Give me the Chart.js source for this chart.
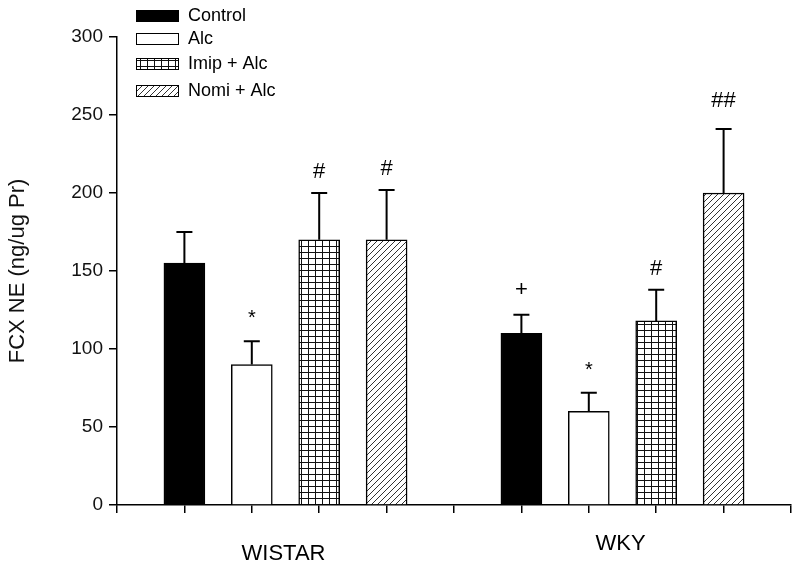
<!DOCTYPE html>
<html>
<head>
<meta charset="utf-8">
<script src="https://cdn.jsdelivr.net/npm/chart.js@4.4.0/dist/chart.umd.min.js"></script>
<style>
html,body{margin:0;padding:0;background:#fff;}
#wrap{width:800px;height:568px;position:relative;}
</style>
</head>
<body>
<div id="wrap"><canvas id="c" width="800" height="568"></canvas></div>
<script>
// ---- data ----
const groups = ['WISTAR', 'WKY'];
const seriesNames = ['Control', 'Alc', 'Imip + Alc', 'Nomi + Alc'];
const controlVals = [155, 110];
const alcVals = [90, 60];
const imipVals = [170, 118];
const nomiVals = [170, 200];
const controlErr = [20, 12];
const alcErr = [15, 12];
const imipErr = [30, 20];
const nomiErr = [32, 41];
const controlMarks = ['', '+'];
const alcMarks = ['*', '*'];
const imipMarks = ['#', '#'];
const nomiMarks = ['#', '##'];
const yTicks = [0, 50, 100, 150, 200, 250, 300];
const yTitle = 'FCX NE (ng/ug Pr)';

// ---- patterns ----
function gridPattern() {
  const c = document.createElement('canvas'); c.width = 7; c.height = 6;
  const g = c.getContext('2d');
  g.fillStyle = '#fff'; g.fillRect(0, 0, 7, 6);
  g.fillStyle = '#111';
  g.fillRect(0, 0, 1, 6); g.fillRect(0, 0, 7, 1);
  return g.createPattern(c, 'repeat');
}
function hatchPattern() {
  const s = 6;
  const c = document.createElement('canvas'); c.width = s; c.height = s;
  const g = c.getContext('2d');
  g.fillStyle = '#fff'; g.fillRect(0, 0, s, s);
  g.strokeStyle = '#333'; g.lineWidth = 1;
  g.beginPath();
  g.moveTo(0, s); g.lineTo(s, 0);
  g.moveTo(-1, 1); g.lineTo(1, -1);
  g.moveTo(s - 1, s + 1); g.lineTo(s + 1, s - 1);
  g.stroke();
  return g.createPattern(c, 'repeat');
}
const fills = ['#000', '#fff', gridPattern(), hatchPattern()];
const valueSets = [controlVals, alcVals, imipVals, nomiVals];
const errSets = [controlErr, alcErr, imipErr, nomiErr];
const markSets = [controlMarks, alcMarks, imipMarks, nomiMarks];
const slotsPerGroup = seriesNames.length + 1;

const datasets = seriesNames.map((name, si) => ({
  label: name,
  data: groups.map((g, gi) => ({ x: gi * slotsPerGroup + si + 1, y: valueSets[si][gi] })),
  backgroundColor: fills[si],
  borderColor: '#000',
  borderWidth: 1.5,
  borderSkipped: 'bottom',
  barThickness: 41,
  errors: errSets[si],
  marks: markSets[si]
}));

const FONT = '"Liberation Sans", Arial, sans-serif';
const markGap = { '#': 15, '##': 22, '+': 19, '*': 17 };

const errorPlugin = {
  id: 'errbars',
  afterDatasetsDraw(chart) {
    const ctx = chart.ctx, ys = chart.scales.y;
    ctx.save();
    chart.data.datasets.forEach((ds, i) => {
      const meta = chart.getDatasetMeta(i);
      meta.data.forEach((el, j) => {
        const v = ds.data[j].y, e = ds.errors[j];
        const yt = ys.getPixelForValue(v + e);
        ctx.strokeStyle = '#000'; ctx.lineWidth = 2;
        ctx.beginPath();
        ctx.moveTo(el.x, el.y); ctx.lineTo(el.x, yt);
        ctx.moveTo(el.x - 8, yt); ctx.lineTo(el.x + 8, yt);
        ctx.stroke();
        const m = ds.marks[j];
        if (m) {
          ctx.fillStyle = '#000';
          ctx.textAlign = 'center'; ctx.textBaseline = 'alphabetic';
          ctx.font = (m === '*' ? '20px ' : '22px ') + FONT;
          ctx.fillText(m, el.x, yt - markGap[m]);
        }
      });
    });
    ctx.restore();
  }
};

const legendPlugin = {
  id: 'customLegend',
  afterDraw(chart) {
    const ctx = chart.ctx;
    const rowsY = [16, 39, 64, 91];
    ctx.save();
    seriesNames.forEach((n, i) => {
      const y = rowsY[i];
      ctx.fillStyle = fills[i];
      ctx.fillRect(136, y - 5, 42, 11);
      ctx.strokeStyle = '#000'; ctx.lineWidth = 1;
      ctx.strokeRect(136.5, y - 5.5, 42, 11);
      ctx.fillStyle = '#000';
      ctx.font = '18px ' + FONT;
      ctx.textAlign = 'left'; ctx.textBaseline = 'middle';
      ctx.fillText(n, 188, y);
    });
    ctx.restore();
  }
};

const groupLabelPlugin = {
  id: 'groupLabels',
  afterDraw(chart) {
    const ctx = chart.ctx, xs = chart.scales.x;
    const offs = [49, 39];
    ctx.save();
    ctx.fillStyle = '#000';
    ctx.font = '22px ' + FONT;
    ctx.textAlign = 'center'; ctx.textBaseline = 'middle';
    groups.forEach((g, gi) => {
      const a = xs.getPixelForValue(gi * slotsPerGroup + 2);
      const b = xs.getPixelForValue(gi * slotsPerGroup + 3);
      ctx.fillText(g, (a + b) / 2 - 2, chart.chartArea.bottom + offs[gi]);
    });
    ctx.restore();
  }
};

new Chart(document.getElementById('c'), {
  type: 'bar',
  data: { datasets },
  options: {
    responsive: false,
    animation: false,
    devicePixelRatio: 1,
    layout: { padding: { top: 37, right: 9, left: 0, bottom: 0 } },
    plugins: { legend: { display: false }, tooltip: { enabled: false } },
    datasets: { bar: { grouped: false } },
    scales: {
      x: {
        type: 'linear',
        offset: false,
        min: 0, max: groups.length * slotsPerGroup,
        afterBuildTicks: s => { s.ticks = []; for (let v = 0; v <= groups.length * slotsPerGroup; v++) s.ticks.push({ value: v }); },
        ticks: { callback: () => '', font: { size: 1 } },
        grid: { offset: false, drawOnChartArea: false, tickLength: 8, color: '#000', lineWidth: 1.5 },
        border: { color: '#000', width: 1.5 },
        afterFit: s => { s.height = 63; }
      },
      y: {
        min: 0, max: 300,
        afterBuildTicks: s => { s.ticks = yTicks.map(v => ({ value: v })); },
        ticks: { color: '#111', font: { family: FONT, size: 19 }, padding: 6 },
        grid: { drawOnChartArea: false, tickLength: 8, color: '#000', lineWidth: 1.5 },
        border: { color: '#000', width: 1.5 },
        title: { display: true, text: yTitle, color: '#111', font: { family: FONT, size: 22 }, padding: { top: 5, bottom: 0 } },
        afterFit: s => { s.width = 117; }
      }
    }
  },
  plugins: [errorPlugin, legendPlugin, groupLabelPlugin]
});
</script>
</body>
</html>
